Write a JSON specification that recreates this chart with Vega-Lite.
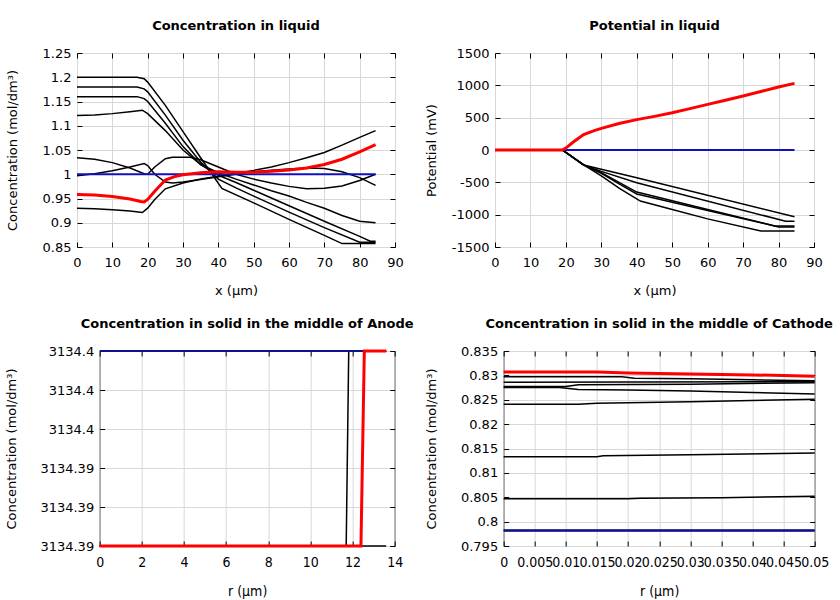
{
  "$schema": "https://vega.github.io/schema/vega-lite/v6.json",
  "padding": {"left": 5, "top": 19, "right": 0, "bottom": 0},
  "background": "white",
  "config": {
    "font": "DejaVu Sans",
    "view": {"stroke": "black", "strokeWidth": 1},
    "axis": {
      "labelFont": "DejaVu Sans", "labelFontSize": 13, "labelColor": "black",
      "titleFont": "DejaVu Sans", "titleFontSize": 13, "titleFontWeight": "normal", "titleColor": "black",
      "domain": false, "tickColor": "black", "tickSize": -5, "tickWidth": 1,
      "gridColor": "#d8d8d8", "gridWidth": 1, "gridOpacity": 1, "labelOverlap": false, "labelFlush": false
    },
    "axisX": {"labelPadding": 14, "titlePadding": 15},
    "axisY": {"labelPadding": 11},
    "title": {"font": "DejaVu Sans", "fontSize": 13, "fontWeight": "bold", "color": "black", "anchor": "middle", "offset": 14}
  },
  "datasets": {
    "d": [
      {"p":1,"s":"blue","x":0,"y":1},{"p":1,"s":"blue","x":84.5,"y":1},
      {"p":1,"s":"red","x":0,"y":0.958},{"p":1,"s":"red","x":5,"y":0.957},{"p":1,"s":"red","x":10,"y":0.954},{"p":1,"s":"red","x":15,"y":0.949},{"p":1,"s":"red","x":18,"y":0.944},{"p":1,"s":"red","x":19,"y":0.943},{"p":1,"s":"red","x":20,"y":0.948},{"p":1,"s":"red","x":22,"y":0.965},{"p":1,"s":"red","x":25,"y":0.988},{"p":1,"s":"red","x":28,"y":0.996},{"p":1,"s":"red","x":30,"y":0.999},{"p":1,"s":"red","x":35,"y":1.003},{"p":1,"s":"red","x":40,"y":1.005},{"p":1,"s":"red","x":45,"y":1.004},{"p":1,"s":"red","x":50,"y":1.004},{"p":1,"s":"red","x":55,"y":1.006},{"p":1,"s":"red","x":60,"y":1.009},{"p":1,"s":"red","x":65,"y":1.013},{"p":1,"s":"red","x":70,"y":1.02},{"p":1,"s":"red","x":75,"y":1.031},{"p":1,"s":"red","x":80,"y":1.046},{"p":1,"s":"red","x":84.5,"y":1.061},
      {"p":1,"s":"k1","x":0,"y":1.2},{"p":1,"s":"k1","x":17,"y":1.2},{"p":1,"s":"k1","x":19,"y":1.197},{"p":1,"s":"k1","x":20,"y":1.19},{"p":1,"s":"k1","x":25,"y":1.142},{"p":1,"s":"k1","x":30,"y":1.088},{"p":1,"s":"k1","x":35,"y":1.034},{"p":1,"s":"k1","x":41,"y":0.971},{"p":1,"s":"k1","x":50,"y":0.941},{"p":1,"s":"k1","x":60,"y":0.907},{"p":1,"s":"k1","x":70,"y":0.874},{"p":1,"s":"k1","x":75,"y":0.857},{"p":1,"s":"k1","x":84.5,"y":0.857},
      {"p":1,"s":"k2","x":0,"y":1.18},{"p":1,"s":"k2","x":17,"y":1.18},{"p":1,"s":"k2","x":19,"y":1.176},{"p":1,"s":"k2","x":20,"y":1.17},{"p":1,"s":"k2","x":25,"y":1.122},{"p":1,"s":"k2","x":30,"y":1.07},{"p":1,"s":"k2","x":35,"y":1.025},{"p":1,"s":"k2","x":40,"y":0.99},{"p":1,"s":"k2","x":45,"y":0.972},{"p":1,"s":"k2","x":50,"y":0.955},{"p":1,"s":"k2","x":60,"y":0.922},{"p":1,"s":"k2","x":70,"y":0.89},{"p":1,"s":"k2","x":80,"y":0.86},{"p":1,"s":"k2","x":84.5,"y":0.86},
      {"p":1,"s":"k3","x":0,"y":1.16},{"p":1,"s":"k3","x":17,"y":1.16},{"p":1,"s":"k3","x":19,"y":1.156},{"p":1,"s":"k3","x":20,"y":1.15},{"p":1,"s":"k3","x":25,"y":1.105},{"p":1,"s":"k3","x":30,"y":1.057},{"p":1,"s":"k3","x":35,"y":1.02},{"p":1,"s":"k3","x":40,"y":0.998},{"p":1,"s":"k3","x":45,"y":0.983},{"p":1,"s":"k3","x":50,"y":0.967},{"p":1,"s":"k3","x":60,"y":0.935},{"p":1,"s":"k3","x":70,"y":0.903},{"p":1,"s":"k3","x":80,"y":0.872},{"p":1,"s":"k3","x":83,"y":0.862},{"p":1,"s":"k3","x":84.5,"y":0.862},
      {"p":1,"s":"k4","x":0,"y":1.121},{"p":1,"s":"k4","x":5,"y":1.122},{"p":1,"s":"k4","x":10,"y":1.125},{"p":1,"s":"k4","x":15,"y":1.129},{"p":1,"s":"k4","x":18.5,"y":1.132},{"p":1,"s":"k4","x":20,"y":1.125},{"p":1,"s":"k4","x":25,"y":1.09},{"p":1,"s":"k4","x":30,"y":1.05},{"p":1,"s":"k4","x":35,"y":1.02},{"p":1,"s":"k4","x":40,"y":1.003},{"p":1,"s":"k4","x":45,"y":0.99},{"p":1,"s":"k4","x":50,"y":0.978},{"p":1,"s":"k4","x":55,"y":0.966},{"p":1,"s":"k4","x":60,"y":0.955},{"p":1,"s":"k4","x":65,"y":0.942},{"p":1,"s":"k4","x":70,"y":0.93},{"p":1,"s":"k4","x":75,"y":0.915},{"p":1,"s":"k4","x":80,"y":0.903},{"p":1,"s":"k4","x":84.5,"y":0.9},
      {"p":1,"s":"k5","x":0,"y":1.034},{"p":1,"s":"k5","x":5,"y":1.031},{"p":1,"s":"k5","x":10,"y":1.024},{"p":1,"s":"k5","x":15,"y":1.013},{"p":1,"s":"k5","x":19,"y":1.001},{"p":1,"s":"k5","x":20,"y":1.0},{"p":1,"s":"k5","x":22,"y":1.015},{"p":1,"s":"k5","x":25,"y":1.032},{"p":1,"s":"k5","x":27,"y":1.035},{"p":1,"s":"k5","x":32,"y":1.035},{"p":1,"s":"k5","x":35,"y":1.03},{"p":1,"s":"k5","x":40,"y":1.015},{"p":1,"s":"k5","x":45,"y":1.0},{"p":1,"s":"k5","x":50,"y":0.99},{"p":1,"s":"k5","x":55,"y":0.982},{"p":1,"s":"k5","x":60,"y":0.975},{"p":1,"s":"k5","x":65,"y":0.97},{"p":1,"s":"k5","x":70,"y":0.971},{"p":1,"s":"k5","x":75,"y":0.976},{"p":1,"s":"k5","x":80,"y":0.987},{"p":1,"s":"k5","x":84.5,"y":1.0},
      {"p":1,"s":"k6","x":0,"y":0.997},{"p":1,"s":"k6","x":5,"y":1.001},{"p":1,"s":"k6","x":10,"y":1.007},{"p":1,"s":"k6","x":15,"y":1.015},{"p":1,"s":"k6","x":19,"y":1.022},{"p":1,"s":"k6","x":20,"y":1.018},{"p":1,"s":"k6","x":22,"y":1.0},{"p":1,"s":"k6","x":25,"y":0.984},{"p":1,"s":"k6","x":27,"y":0.982},{"p":1,"s":"k6","x":30,"y":0.984},{"p":1,"s":"k6","x":35,"y":0.989},{"p":1,"s":"k6","x":40,"y":0.995},{"p":1,"s":"k6","x":45,"y":1.0},{"p":1,"s":"k6","x":50,"y":1.005},{"p":1,"s":"k6","x":55,"y":1.008},{"p":1,"s":"k6","x":60,"y":1.011},{"p":1,"s":"k6","x":65,"y":1.013},{"p":1,"s":"k6","x":70,"y":1.012},{"p":1,"s":"k6","x":75,"y":1.005},{"p":1,"s":"k6","x":80,"y":0.993},{"p":1,"s":"k6","x":84.5,"y":0.977},
      {"p":1,"s":"k7","x":0,"y":0.93},{"p":1,"s":"k7","x":5,"y":0.929},{"p":1,"s":"k7","x":10,"y":0.927},{"p":1,"s":"k7","x":15,"y":0.924},{"p":1,"s":"k7","x":18.5,"y":0.921},{"p":1,"s":"k7","x":20,"y":0.93},{"p":1,"s":"k7","x":22,"y":0.948},{"p":1,"s":"k7","x":25,"y":0.97},{"p":1,"s":"k7","x":30,"y":0.982},{"p":1,"s":"k7","x":35,"y":0.99},{"p":1,"s":"k7","x":40,"y":0.996},{"p":1,"s":"k7","x":45,"y":1.002},{"p":1,"s":"k7","x":50,"y":1.008},{"p":1,"s":"k7","x":55,"y":1.015},{"p":1,"s":"k7","x":60,"y":1.024},{"p":1,"s":"k7","x":65,"y":1.034},{"p":1,"s":"k7","x":70,"y":1.045},{"p":1,"s":"k7","x":75,"y":1.06},{"p":1,"s":"k7","x":80,"y":1.076},{"p":1,"s":"k7","x":84.5,"y":1.09},

      {"p":2,"s":"blue","x":0,"y":0},{"p":2,"s":"blue","x":84.5,"y":0},
      {"p":2,"s":"red","x":0,"y":0},{"p":2,"s":"red","x":19,"y":0},{"p":2,"s":"red","x":20,"y":30},{"p":2,"s":"red","x":22,"y":120},{"p":2,"s":"red","x":25,"y":240},{"p":2,"s":"red","x":28,"y":300},{"p":2,"s":"red","x":30,"y":335},{"p":2,"s":"red","x":35,"y":410},{"p":2,"s":"red","x":40,"y":470},{"p":2,"s":"red","x":45,"y":520},{"p":2,"s":"red","x":50,"y":575},{"p":2,"s":"red","x":55,"y":640},{"p":2,"s":"red","x":60,"y":705},{"p":2,"s":"red","x":65,"y":770},{"p":2,"s":"red","x":70,"y":835},{"p":2,"s":"red","x":75,"y":905},{"p":2,"s":"red","x":80,"y":975},{"p":2,"s":"red","x":84.5,"y":1030},
      {"p":2,"s":"k1","x":0,"y":0},{"p":2,"s":"k1","x":19,"y":0},{"p":2,"s":"k1","x":25,"y":-231},{"p":2,"s":"k1","x":40,"y":-430},{"p":2,"s":"k1","x":84.5,"y":-1031},
      {"p":2,"s":"k2","x":0,"y":0},{"p":2,"s":"k2","x":19,"y":0},{"p":2,"s":"k2","x":25,"y":-231},{"p":2,"s":"k2","x":30,"y":-330},{"p":2,"s":"k2","x":40,"y":-505},{"p":2,"s":"k2","x":82,"y":-1102},{"p":2,"s":"k2","x":84.5,"y":-1102},
      {"p":2,"s":"k3","x":0,"y":0},{"p":2,"s":"k3","x":19,"y":0},{"p":2,"s":"k3","x":25,"y":-231},{"p":2,"s":"k3","x":30,"y":-350},{"p":2,"s":"k3","x":35,"y":-500},{"p":2,"s":"k3","x":40,"y":-650},{"p":2,"s":"k3","x":60,"y":-920},{"p":2,"s":"k3","x":79,"y":-1175},{"p":2,"s":"k3","x":84.5,"y":-1175},
      {"p":2,"s":"k4","x":0,"y":0},{"p":2,"s":"k4","x":19,"y":0},{"p":2,"s":"k4","x":25,"y":-231},{"p":2,"s":"k4","x":30,"y":-360},{"p":2,"s":"k4","x":35,"y":-525},{"p":2,"s":"k4","x":40,"y":-680},{"p":2,"s":"k4","x":60,"y":-935},{"p":2,"s":"k4","x":80,"y":-1190},{"p":2,"s":"k4","x":84.5,"y":-1190},
      {"p":2,"s":"k5","x":0,"y":0},{"p":2,"s":"k5","x":19,"y":0},{"p":2,"s":"k5","x":25,"y":-231},{"p":2,"s":"k5","x":30,"y":-400},{"p":2,"s":"k5","x":35,"y":-590},{"p":2,"s":"k5","x":41,"y":-790},{"p":2,"s":"k5","x":50,"y":-920},{"p":2,"s":"k5","x":60,"y":-1065},{"p":2,"s":"k5","x":75,"y":-1252},{"p":2,"s":"k5","x":84.5,"y":-1252},

      {"p":3,"s":"blue","x":0,"y":3134.4},{"p":3,"s":"blue","x":13.6,"y":3134.4},
      {"p":3,"s":"red","x":0,"y":3134.39},{"p":3,"s":"red","x":12.4,"y":3134.39},{"p":3,"s":"red","x":12.56,"y":3134.4},{"p":3,"s":"red","x":13.6,"y":3134.4},
      {"p":3,"s":"k1","x":0,"y":3134.39},{"p":3,"s":"k1","x":13.6,"y":3134.39},
      {"p":3,"s":"k2","x":0,"y":3134.39},{"p":3,"s":"k2","x":11.7,"y":3134.39},{"p":3,"s":"k2","x":11.82,"y":3134.4},{"p":3,"s":"k2","x":13.6,"y":3134.4},

      {"p":4,"s":"blue","x":0,"y":0.7982},{"p":4,"s":"blue","x":0.05,"y":0.7982},
      {"p":4,"s":"red","x":0,"y":0.8307},{"p":4,"s":"red","x":0.015,"y":0.8307},{"p":4,"s":"red","x":0.02,"y":0.8305},{"p":4,"s":"red","x":0.03,"y":0.8303},{"p":4,"s":"red","x":0.04,"y":0.8301},{"p":4,"s":"red","x":0.05,"y":0.8298},
      {"p":4,"s":"k1","x":0,"y":0.8297},{"p":4,"s":"k1","x":0.019,"y":0.8297},{"p":4,"s":"k1","x":0.021,"y":0.8294},{"p":4,"s":"k1","x":0.03,"y":0.8293},{"p":4,"s":"k1","x":0.04,"y":0.8291},{"p":4,"s":"k1","x":0.05,"y":0.8289},
      {"p":4,"s":"k2","x":0,"y":0.8286},{"p":4,"s":"k2","x":0.05,"y":0.8287},
      {"p":4,"s":"k3","x":0,"y":0.8277},{"p":4,"s":"k3","x":0.01,"y":0.8277},{"p":4,"s":"k3","x":0.012,"y":0.8281},{"p":4,"s":"k3","x":0.03,"y":0.8282},{"p":4,"s":"k3","x":0.05,"y":0.8285},
      {"p":4,"s":"k4","x":0,"y":0.8275},{"p":4,"s":"k4","x":0.009,"y":0.8275},{"p":4,"s":"k4","x":0.012,"y":0.8271},{"p":4,"s":"k4","x":0.02,"y":0.827},{"p":4,"s":"k4","x":0.03,"y":0.8268},{"p":4,"s":"k4","x":0.04,"y":0.8265},{"p":4,"s":"k4","x":0.05,"y":0.8262},
      {"p":4,"s":"k5","x":0,"y":0.8241},{"p":4,"s":"k5","x":0.012,"y":0.8241},{"p":4,"s":"k5","x":0.015,"y":0.8243},{"p":4,"s":"k5","x":0.03,"y":0.8246},{"p":4,"s":"k5","x":0.05,"y":0.8251},
      {"p":4,"s":"k6","x":0,"y":0.8133},{"p":4,"s":"k6","x":0.015,"y":0.8133},{"p":4,"s":"k6","x":0.016,"y":0.8135},{"p":4,"s":"k6","x":0.03,"y":0.8137},{"p":4,"s":"k6","x":0.05,"y":0.8141},
      {"p":4,"s":"k7","x":0,"y":0.8047},{"p":4,"s":"k7","x":0.02,"y":0.8047},{"p":4,"s":"k7","x":0.022,"y":0.8048},{"p":4,"s":"k7","x":0.035,"y":0.8049},{"p":4,"s":"k7","x":0.05,"y":0.8052},
      {"p":4,"s":"k8","x":0,"y":0.7982},{"p":4,"s":"k8","x":0.05,"y":0.7982}
    ],
    "one": [{"a": 0}]
  },
  "vconcat": [
    {
      "spacing": 20,
      "hconcat": [
        {
          "title": "Concentration in liquid",
          "width": 318, "height": 194,
          "data": {"name": "d"},
          "transform": [{"filter": "datum.p == 1"}],
          "layer": [
            {
              "transform": [{"filter": "datum.s != 'red' && datum.s != 'blue'"}],
              "mark": {"type": "line", "color": "black", "strokeWidth": 1.5},
              "encoding": {
                "x": {"field": "x", "type": "quantitative", "scale": {"domain": [0, 90], "nice": false, "zero": false}, "axis": {"title": "x (µm)", "values": [0,10,20,30,40,50,60,70,80,90], "grid": true}},
                "y": {"field": "y", "type": "quantitative", "scale": {"domain": [0.85, 1.25], "nice": false, "zero": false}, "axis": {"title": "Concentration (mol/dm³)", "values": [0.85,0.9,0.95,1,1.05,1.1,1.15,1.2,1.25], "format": ".2~f", "grid": true, "titlePadding": 23}},
                "detail": {"field": "s"}
              }
            },
            {
              "transform": [{"filter": "datum.s == 'blue'"}],
              "mark": {"type": "line", "color": "#1010c0", "strokeWidth": 2},
              "encoding": {"x": {"field": "x", "type": "quantitative", "axis": null}, "y": {"field": "y", "type": "quantitative", "axis": null}}
            },
            {
              "transform": [{"filter": "datum.s == 'red'"}],
              "mark": {"type": "line", "color": "#ff0000", "strokeWidth": 3},
              "encoding": {
                "x": {"field": "x", "type": "quantitative", "axis": {"orient": "top", "labels": false, "title": null, "grid": false, "values": [0,10,20,30,40,50,60,70,80,90]}},
                "y": {"field": "y", "type": "quantitative", "axis": {"orient": "right", "labels": false, "title": null, "grid": false, "values": [0.85,0.9,0.95,1,1.05,1.1,1.15,1.2,1.25]}}
              }
            }
          ],
          "resolve": {"axis": {"x": "independent", "y": "independent"}}
        },
        {
          "spacing": 0,
          "hconcat": [
            {
              "title": "Potential in liquid",
              "width": 319, "height": 194,
              "data": {"name": "d"},
              "transform": [{"filter": "datum.p == 2"}],
              "layer": [
                {
                  "transform": [{"filter": "datum.s != 'red' && datum.s != 'blue'"}],
                  "mark": {"type": "line", "color": "black", "strokeWidth": 1.5},
                  "encoding": {
                    "x": {"field": "x", "type": "quantitative", "scale": {"domain": [0, 90], "nice": false, "zero": false}, "axis": {"title": "x (µm)", "values": [0,10,20,30,40,50,60,70,80,90], "grid": true}},
                    "y": {"field": "y", "type": "quantitative", "scale": {"domain": [-1500, 1500], "nice": false, "zero": false}, "axis": {"title": "Potential (mV)", "values": [-1500,-1000,-500,0,500,1000,1500], "format": "d", "labelExpr": "replace(datum.label, '\u2212', '-')", "grid": true, "titlePadding": 13}},
                    "detail": {"field": "s"}
                  }
                },
                {
                  "transform": [{"filter": "datum.s == 'blue'"}],
                  "mark": {"type": "line", "color": "#1010c0", "strokeWidth": 2},
                  "encoding": {"x": {"field": "x", "type": "quantitative", "axis": null}, "y": {"field": "y", "type": "quantitative", "axis": null}}
                },
                {
                  "transform": [{"filter": "datum.s == 'red'"}],
                  "mark": {"type": "line", "color": "#ff0000", "strokeWidth": 3},
                  "encoding": {
                    "x": {"field": "x", "type": "quantitative", "axis": {"orient": "top", "labels": false, "title": null, "grid": false, "values": [0,10,20,30,40,50,60,70,80,90]}},
                    "y": {"field": "y", "type": "quantitative", "axis": {"orient": "right", "labels": false, "title": null, "grid": false, "values": [-1500,-1000,-500,0,500,1000,1500]}}
                  }
                }
              ],
              "resolve": {"axis": {"x": "independent", "y": "independent"}}
            },
            {
              "width": 33, "height": 1,
              "view": {"stroke": null},
              "data": {"name": "one"},
              "mark": {"type": "point", "opacity": 0},
              "encoding": {}
            }
          ]
        }
      ]
    },
    {
      "spacing": 10,
      "hconcat": [
        {
          "title": "Concentration in solid in the middle of Anode",
          "width": 295, "height": 195,
          "data": {"name": "d"},
          "transform": [{"filter": "datum.p == 3"}],
          "layer": [
            {
              "transform": [{"filter": "datum.s != 'red' && datum.s != 'blue'"}],
              "mark": {"type": "line", "color": "black", "strokeWidth": 1.5},
              "encoding": {
                "x": {"field": "x", "type": "quantitative", "scale": {"domain": [0, 14], "nice": false, "zero": false}, "axis": {"title": "r (µm)", "values": [0,2,4,6,8,10,12,14], "grid": true, "labelFont": "DejaVu Sans Condensed", "titleFont": "DejaVu Sans Condensed", "labelFontSize": 14, "titleFontSize": 14}},
                "y": {"field": "y", "type": "quantitative", "scale": {"domain": [3134.39, 3134.4], "nice": false, "zero": false}, "axis": {"title": "Concentration (mol/dm³)", "values": [3134.39,3134.392,3134.394,3134.396,3134.398,3134.4], "format": ".2~f", "grid": true, "titlePadding": 21}},
                "detail": {"field": "s"}
              }
            },
            {
              "transform": [{"filter": "datum.s == 'blue'"}],
              "mark": {"type": "line", "color": "#10108a", "strokeWidth": 2},
              "encoding": {"x": {"field": "x", "type": "quantitative", "axis": null}, "y": {"field": "y", "type": "quantitative", "axis": null}}
            },
            {
              "transform": [{"filter": "datum.s == 'red'"}],
              "mark": {"type": "line", "color": "#ff0000", "strokeWidth": 3},
              "encoding": {
                "x": {"field": "x", "type": "quantitative", "axis": {"orient": "top", "labels": false, "title": null, "grid": false, "values": [0,2,4,6,8,10,12,14]}},
                "y": {"field": "y", "type": "quantitative", "axis": {"orient": "right", "labels": false, "title": null, "grid": false, "values": [3134.39,3134.392,3134.394,3134.396,3134.398,3134.4]}}
              }
            }
          ],
          "resolve": {"axis": {"x": "independent", "y": "independent"}}
        },
        {
          "title": "Concentration in solid in the middle of Cathode",
          "width": 311, "height": 195,
          "data": {"name": "d"},
          "transform": [{"filter": "datum.p == 4"}],
          "layer": [
            {
              "transform": [{"filter": "datum.s != 'red' && datum.s != 'blue'"}],
              "mark": {"type": "line", "color": "black", "strokeWidth": 1.5},
              "encoding": {
                "x": {"field": "x", "type": "quantitative", "scale": {"domain": [0, 0.05], "nice": false, "zero": false}, "axis": {"title": "r (µm)", "values": [0,0.005,0.01,0.015,0.02,0.025,0.03,0.035,0.04,0.045,0.05], "format": ".3~f", "grid": true, "labelFont": "DejaVu Sans Condensed", "titleFont": "DejaVu Sans Condensed", "labelFontSize": 14, "titleFontSize": 14}},
                "y": {"field": "y", "type": "quantitative", "scale": {"domain": [0.795, 0.835], "nice": false, "zero": false}, "axis": {"title": "Concentration (mol/dm³)", "values": [0.795,0.8,0.805,0.81,0.815,0.82,0.825,0.83,0.835], "format": ".3~f", "grid": true, "titlePadding": 22}},
                "detail": {"field": "s"}
              }
            },
            {
              "transform": [{"filter": "datum.s == 'blue'"}],
              "mark": {"type": "line", "color": "#10108a", "strokeWidth": 2.5},
              "encoding": {"x": {"field": "x", "type": "quantitative", "axis": null}, "y": {"field": "y", "type": "quantitative", "axis": null}}
            },
            {
              "transform": [{"filter": "datum.s == 'red'"}],
              "mark": {"type": "line", "color": "#ff0000", "strokeWidth": 3},
              "encoding": {
                "x": {"field": "x", "type": "quantitative", "axis": {"orient": "top", "labels": false, "title": null, "grid": false, "values": [0,0.005,0.01,0.015,0.02,0.025,0.03,0.035,0.04,0.045,0.05]}},
                "y": {"field": "y", "type": "quantitative", "axis": {"orient": "right", "labels": false, "title": null, "grid": false, "values": [0.795,0.8,0.805,0.81,0.815,0.82,0.825,0.83,0.835]}}
              }
            }
          ],
          "resolve": {"axis": {"x": "independent", "y": "independent"}}
        }
      ]
    }
  ],
  "center": true,
  "spacing": 19
}
